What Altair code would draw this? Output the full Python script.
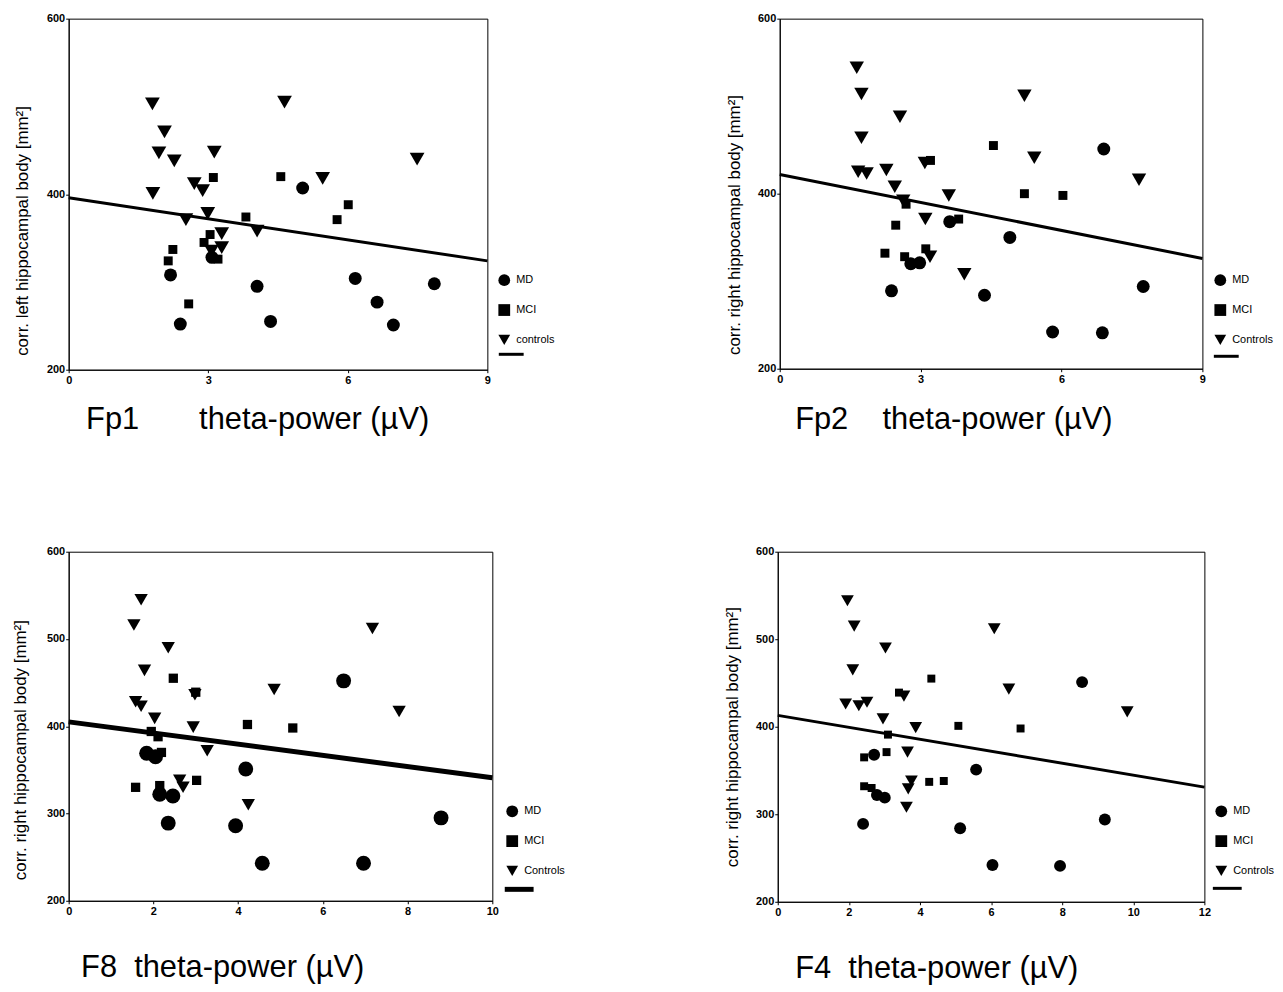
import altair as alt
import pandas as pd

# ---------------- data ----------------
# Fp1
fp1_md_x = [5.03, 3.08, 2.19, 4.05, 6.16, 6.63, 7.86, 2.40, 4.34, 6.98]
fp1_md_y = [407, 328, 308, 295, 304, 277, 298, 252, 255, 251]
fp1_mci_x = [3.11, 4.56, 3.81, 6.01, 5.77, 3.04, 2.91, 2.24, 2.14, 3.21, 2.58]
fp1_mci_y = [419, 420, 374, 388, 371, 354, 345, 337, 324, 326, 275]
fp1_ctl_x = [1.80, 4.64, 2.06, 1.94, 2.27, 3.13, 7.49, 5.46, 1.81, 2.70, 2.88, 2.99, 2.52, 3.29, 4.05, 3.29, 3.07]
fp1_ctl_y = [503, 505, 471, 447, 438, 448, 440, 418, 401, 412, 404, 378, 371, 355, 358, 339, 335]
fp1_fit_x = [0, 9]
fp1_fit_y = [396, 324]

# Fp2
fp2_md_x = [6.90, 3.62, 4.90, 2.79, 2.98, 2.38, 4.36, 7.74, 5.81, 6.87]
fp2_md_y = [451, 368, 350, 320, 321, 289, 284, 294, 242, 241]
fp2_mci_x = [3.21, 4.55, 5.21, 6.03, 2.69, 2.47, 3.81, 2.24, 2.66, 3.11]
fp2_mci_y = [438, 455, 400, 398, 388, 364, 371, 332, 328, 337]
fp2_ctl_x = [1.64, 1.74, 5.21, 2.56, 1.74, 1.67, 1.85, 2.27, 5.42, 3.09, 7.65, 2.45, 3.60, 2.63, 3.10, 3.20, 3.93]
fp2_ctl_y = [544, 514, 512, 488, 464, 425, 423, 427, 441, 435, 416, 408, 398, 392, 371, 328, 308]
fp2_fit_x = [0, 9]
fp2_fit_y = [422, 326]

# F8
f8_md_x = [6.49, 1.84, 2.05, 4.18, 2.15, 2.46, 2.35, 3.94, 8.79, 4.57, 6.96]
f8_md_y = [452, 369, 365, 351, 322, 320, 289, 286, 295, 243, 243]
f8_mci_x = [2.47, 3.00, 4.22, 5.29, 1.95, 2.11, 2.19, 1.58, 2.15, 3.02]
f8_mci_y = [455, 439, 402, 398, 394, 388, 370, 330, 332, 338]
f8_ctl_x = [1.71, 1.54, 7.17, 2.35, 1.79, 4.85, 1.58, 1.71, 7.80, 2.03, 2.94, 2.98, 3.27, 2.62, 2.70, 4.24]
f8_ctl_y = [545, 516, 512, 490, 464, 442, 428, 423, 417, 409, 399, 436, 372, 338, 330, 310]
f8_fit_x = [0, 10]
f8_fit_y = [405, 341]

# F4
f4_md_x = [8.56, 2.71, 5.58, 2.79, 3.01, 2.40, 5.13, 9.20, 6.04, 7.94]
f4_md_y = [451, 368, 351, 322, 319, 289, 284, 294, 242, 241]
f4_mci_x = [4.32, 3.41, 5.08, 6.83, 3.10, 3.06, 2.43, 2.43, 2.64, 4.26, 4.67]
f4_mci_y = [455, 439, 401, 398, 391, 371, 365, 332, 330, 337, 338]
f4_ctl_x = [1.96, 2.15, 6.09, 3.03, 2.11, 6.50, 1.91, 2.28, 2.51, 9.83, 3.55, 2.96, 3.88, 3.65, 3.76, 3.67, 3.62]
f4_ctl_y = [544, 515, 512, 490, 465, 443, 426, 424, 428, 417, 435, 409, 399, 371, 338, 329, 308]
f4_fit_x = [0, 12]
f4_fit_y = [413, 331]

groups_lower = ["MD", "MCI", "controls"]
groups_upper = ["MD", "MCI", "Controls"]

NB = "\u00a0"
title_fp1 = "Fp1" + NB * 7 + "theta-power (\u00b5V)"
title_fp2 = "Fp2" + NB * 4 + "theta-power (\u00b5V)"
title_f8 = "F8" + NB * 2 + "theta-power (\u00b5V)"
title_f4 = "F4" + NB * 2 + "theta-power (\u00b5V)"
ytitle_left = "corr. left hippocampal body [mm\u00b2]"
ytitle_right = "corr. right hippocampal body [mm\u00b2]"

FONT = "Liberation Sans"
SHAPES = ["circle", "square", "triangle-down"]


def make_panel(md, mci, ctl, fit, groups, x_domain, x_ticks, y_ticks,
               width, height, sizes, line_w, x_title, x_title_pos,
               y_title, y_title_pos, legend_pos, line_legend_pos, line_len):
    xs = alt.Scale(domain=x_domain, nice=False, zero=False)
    ys = alt.Scale(domain=[200, 600], nice=False, zero=False)
    x_axis = alt.Axis(values=x_ticks, title=x_title, titleX=x_title_pos[0],
                      titleY=x_title_pos[1], titleAlign="left",
                      titleBaseline="alphabetic", titleAngle=0,
                      titleFontSize=31, titleFontWeight="normal", labelFlush=False)
    y_axis = alt.Axis(values=y_ticks, title=y_title, titleX=y_title_pos[0],
                      titleY=y_title_pos[1], titleAngle=270, titleAlign="center",
                      titleBaseline="middle", titleFontSize=17,
                      titleFontWeight="normal", labelFlush=False)
    shape_legend = alt.Legend(orient="none", legendX=legend_pos[0],
                              legendY=legend_pos[1], title=None,
                              symbolSize=140, symbolFillColor="black",
                              symbolStrokeColor="black", labelFontSize=11,
                              rowPadding=12, padding=0, labelOffset=5)

    layers = []
    for g, (xs_, ys_), s in zip(groups, [md, mci, ctl], sizes):
        df = pd.DataFrame({"x": xs_, "y": ys_, "group": [g] * len(xs_)})
        layers.append(
            alt.Chart(df).mark_point(filled=True, opacity=1, color="black", size=s).encode(
                x=alt.X("x:Q", scale=xs, axis=x_axis),
                y=alt.Y("y:Q", scale=ys, axis=y_axis),
                shape=alt.Shape("group:N", scale=alt.Scale(domain=groups, range=SHAPES),
                                legend=shape_legend),
            )
        )
    fit_df = pd.DataFrame({"x": fit[0], "y": fit[1], "fit": [" "] * len(fit[0])})
    line = alt.Chart(fit_df).mark_line(strokeWidth=line_w).encode(
        x=alt.X("x:Q", scale=xs, axis=x_axis),
        y=alt.Y("y:Q", scale=ys, axis=y_axis),
        stroke=alt.Stroke("fit:N", scale=alt.Scale(range=["black"]),
                          legend=alt.Legend(orient="none", legendX=line_legend_pos[0],
                                            legendY=line_legend_pos[1], title=None,
                                            symbolType="stroke",
                                            symbolSize=line_len * line_len,
                                            symbolStrokeWidth=line_w,
                                            symbolStrokeColor="black",
                                            labelFontSize=1, padding=0)),
    )
    layers.append(line)
    return alt.layer(*layers).properties(width=width, height=height)


p1 = make_panel((fp1_md_x, fp1_md_y), (fp1_mci_x, fp1_mci_y), (fp1_ctl_x, fp1_ctl_y),
                (fp1_fit_x, fp1_fit_y), groups_lower, [0, 9], [0, 3, 6, 9], [200, 400, 600],
                421, 353, [169, 81, 220], 3, title_fp1, (17, 59),
                ytitle_left, (-46, 213), (431, 256), (431, 323.5), 25)
p2 = make_panel((fp2_md_x, fp2_md_y), (fp2_mci_x, fp2_mci_y), (fp2_ctl_x, fp2_ctl_y),
                (fp2_fit_x, fp2_fit_y), groups_upper, [0, 9], [0, 3, 6, 9], [200, 400, 600],
                425, 352, [169, 81, 210], 3, title_fp2, (15, 60),
                ytitle_right, (-45, 207), (436, 256), (435, 325.5), 25)
p3 = make_panel((f8_md_x, f8_md_y), (f8_mci_x, f8_mci_y), (f8_ctl_x, f8_ctl_y),
                (f8_fit_x, f8_fit_y), groups_upper, [0, 10], [0, 2, 4, 6, 8, 10],
                [200, 300, 400, 500, 600],
                426, 351, [225, 87, 180], 5, title_f8, (12, 76),
                ytitle_right, (-48, 199), (439, 254), (436, 322.5), 29)
p4 = make_panel((f4_md_x, f4_md_y), (f4_mci_x, f4_mci_y), (f4_ctl_x, f4_ctl_y),
                (f4_fit_x, f4_fit_y), groups_upper, [0, 12], [0, 2, 4, 6, 8, 10, 12],
                [200, 300, 400, 500, 600],
                429, 352, [144, 64, 165], 3, title_f4, (17, 76),
                ytitle_right, (-45, 186), (439, 254), (436, 322.5), 29)

RES = dict(x="independent", y="independent", shape="independent", stroke="independent")

top = alt.hconcat(p1, p2, spacing=170).resolve_scale(**RES)
bottom = alt.hconcat(p3, p4, spacing=158).resolve_scale(**RES)

chart = (
    alt.vconcat(top, bottom, spacing=110)
    .resolve_scale(**RES)
    .properties(padding={"left": 3, "top": 1, "right": 0, "bottom": 2}, background="white")
    .configure_view(stroke="black", strokeWidth=1)
    .configure_axis(domainColor="black", tickColor="black", labelColor="black",
                    titleColor="black", labelFont=FONT, titleFont=FONT,
                    labelFontSize=11, labelFontWeight="bold", tickSize=3,
                    grid=False, domainWidth=1, tickWidth=1)
    .configure_axisX(labelPadding=2)
    .configure_axisY(labelPadding=1)
    .configure_legend(labelFont=FONT, labelColor="black")
)

chart.save("out.html", embed_options={"renderer": "svg", "actions": False})
